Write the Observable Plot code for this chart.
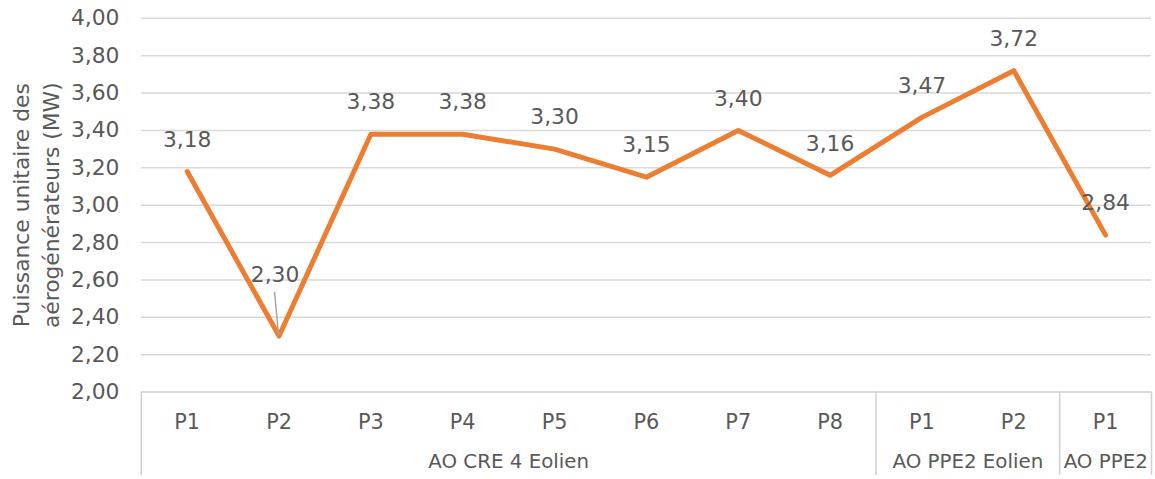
<!DOCTYPE html>
<html>
<head>
<meta charset="utf-8">
<script src="https://cdn.jsdelivr.net/npm/d3@7"></script>
<script src="https://cdn.jsdelivr.net/npm/@observablehq/plot@0.6"></script>
<style>
  html, body { margin: 0; padding: 0; background: #fff; overflow: hidden; }
  #chart { width: 1155px; height: 479px; overflow: hidden; }
</style>
</head>
<body>
<div id="chart"></div>
<script>
// ---- data ----
const periods = ["P1", "P2", "P3", "P4", "P5", "P6", "P7", "P8", "P1", "P2", "P1"];
const values = [3.18, 2.30, 3.38, 3.38, 3.30, 3.15, 3.40, 3.16, 3.47, 3.72, 2.84];
const groupNames = ["AO CRE 4 Eolien", "AO PPE2 Eolien", "AO PPE2 Eolien"];
const groupSizes = [8, 2, 1];
const yTicks = [2.0, 2.2, 2.4, 2.6, 2.8, 3.0, 3.2, 3.4, 3.6, 3.8, 4.0];
const yTitle = "Puissance unitaire des\naérogénérateurs (MW)";

// ---- derived tables ----
const data = values.map((v, i) => ({i, v, p: periods[i]}));
let start = 0;
const groups = groupNames.map((name, k) => {
  const g = {name, first: start, last: start + groupSizes[k] - 1};
  start += groupSizes[k];
  return g;
});
const boundaries = [-0.5, ...groups.map(g => g.last + 0.5)];
const fr = d3.formatLocale({decimal: ",", thousands: " ", grouping: [3], currency: ["", " €"]});
const fmt = fr.format(".2f");

const textColor = "#595959";
const gridColor = "#d9d9d9";
const lineColor = "#ED7D31";
const font = "DejaVu Sans, sans-serif";

const fits = groups.filter(g => g.last - g.first >= 1);
const narrow = groups.filter(g => g.last - g.first < 1);

const plot = Plot.plot({
  width: 1165,
  height: 479,
  marginLeft: 142,
  marginRight: 4,
  marginTop: 18,
  marginBottom: 84,
  style: {fontFamily: font, background: "#fff", overflow: "visible"},
  x: {domain: [-0.5, values.length - 0.5], axis: null},
  y: {domain: [2, 4], axis: null},
  marks: [
    Plot.gridY(yTicks.filter(t => t > 2), {stroke: gridColor, strokeOpacity: 1, strokeWidth: 1.5}),
    Plot.ruleY([2], {stroke: "#cfcfcf", strokeWidth: 1.5}),
    Plot.axisY(yTicks, {
      tickSize: 0, tickPadding: 22, tickFormat: fmt, label: null,
      fontSize: 22, fill: textColor
    }),
    Plot.axisX(boundaries, {
      tickSize: 84, tickFormat: () => "", label: null,
      stroke: "#d0d0d0", strokeWidth: 1.5
    }),
    Plot.axisX(data.map(d => d.i), {
      tickSize: 0, tickPadding: 22, tickFormat: i => periods[i], label: null,
      fontSize: 21, fill: textColor
    }),
    Plot.text(fits, {
      x: g => (g.first + g.last) / 2, text: "name", frameAnchor: "bottom", lineAnchor: "middle",
      dy: 70, fontSize: 20, fill: textColor
    }),
    Plot.text(narrow, {
      x: g => g.first - 0.5, text: "name", frameAnchor: "bottom", lineAnchor: "middle",
      textAnchor: "start", dy: 70, dx: 4, fontSize: 20, fill: textColor
    }),
    Plot.text([yTitle], {
      text: d => d, frameAnchor: "left", textAnchor: "middle", rotate: -90, dx: -108,
      lineHeight: 1.4, fontSize: 22, fill: textColor
    }),
    Plot.line(data, {
      x: "i", y: "v", stroke: lineColor, strokeWidth: 5,
      strokeLinecap: "round", strokeLinejoin: "round"
    }),
    Plot.text(data.filter(d => d.i !== 1), {
      x: "i", y: "v", text: d => fmt(d.v), dy: -32, fontSize: 22, fill: textColor
    }),
    Plot.text(data.filter(d => d.i === 1), {
      x: "i", y: "v", text: d => fmt(d.v), dy: -62, dx: -4, fontSize: 22, fill: textColor
    })
  ]
});

// leader line for the displaced 2,30 label
const xs = plot.scale("x"), ys = plot.scale("y");
const lead = data[1];
d3.select(plot).append("line")
  .attr("x1", xs.apply(lead.i) - 4).attr("y1", ys.apply(lead.v) - 44)
  .attr("x2", xs.apply(lead.i)).attr("y2", ys.apply(lead.v))
  .attr("stroke", "#a6a6a6").attr("stroke-width", 1.5);

document.getElementById("chart").appendChild(plot);
</script>
</body>
</html>
